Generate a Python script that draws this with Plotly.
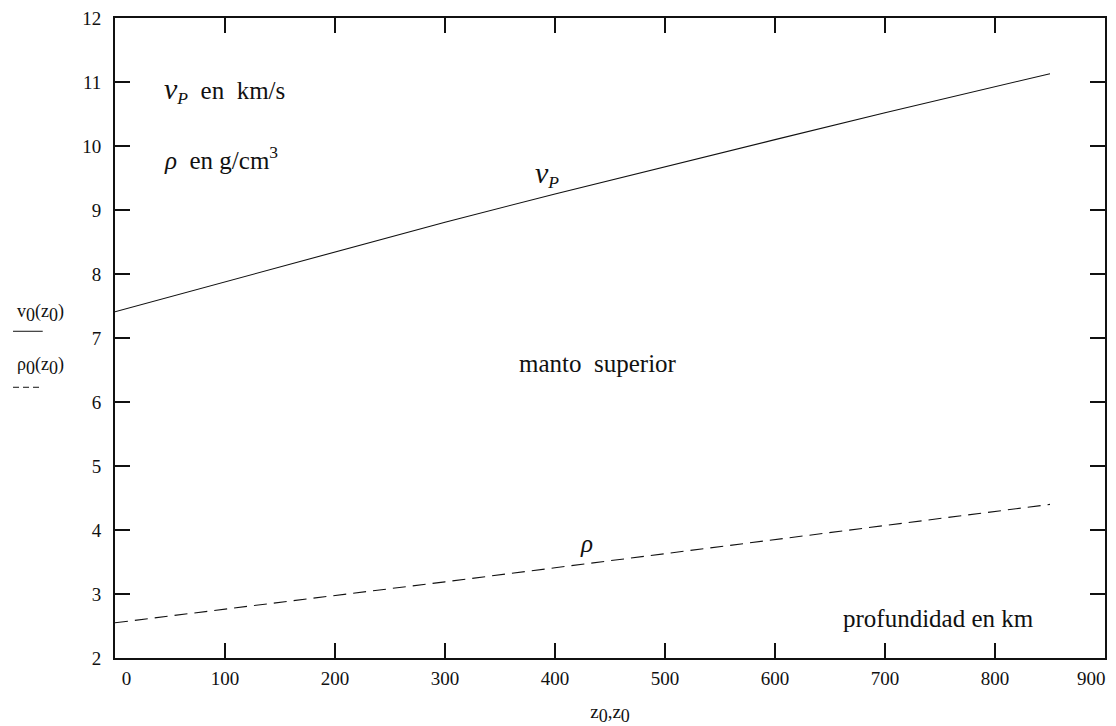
import plotly.graph_objects as go

# Depth in km
depth_km = [0, 100, 200, 300, 400, 500, 600, 700, 800, 850]
# P-wave velocity in km/s
vp_kms = [7.41, 7.88, 8.35, 8.81, 9.25, 9.68, 10.10, 10.52, 10.93, 11.13]
# Density in g/cm^3
rho_gcm3 = [2.55, 2.76, 2.97, 3.19, 3.41, 3.63, 3.85, 4.07, 4.29, 4.40]

x_tick_vals = [0, 100, 200, 300, 400, 500, 600, 700, 800, 900]
x_tick_text = ["\u2002\u2002\u20090", "100", "200", "300", "400", "500",
               "600", "700", "800", ""]
y_tick_vals = [2, 3, 4, 5, 6, 7, 8, 9, 10, 11, 12]

SERIF = "'Liberation Serif', 'Times New Roman', Times, serif"
INK = "#111111"

fig = go.Figure()
fig.add_trace(go.Scatter(x=depth_km, y=vp_kms, mode="lines",
                         line=dict(color=INK, width=1.1), showlegend=False))
fig.add_trace(go.Scatter(x=depth_km, y=rho_gcm3, mode="lines",
                         line=dict(color=INK, width=1.1, dash="13px,7px"),
                         showlegend=False))

axis_common = dict(
    showgrid=False, zeroline=False, automargin=False,
    showline=True, linecolor=INK, linewidth=2, mirror="ticks",
    ticks="inside", ticklen=15, tickwidth=2, tickcolor=INK,
    tickfont=dict(family=SERIF, size=19, color=INK),
)

fig.update_xaxes(range=[0, 900], tickmode="array", tickvals=x_tick_vals,
                 ticktext=x_tick_text, ticklabelstandoff=2,
                 title=dict(text="z<sub><span style='font-size:18px'>0</span></sub>,"
                                 "z<sub><span style='font-size:18px'>0</span></sub>",
                            font=dict(family=SERIF, size=19, color=INK),
                            standoff=22),
                 **axis_common)
fig.update_yaxes(range=[2, 12], tickmode="array", tickvals=y_tick_vals,
                 ticklabelstandoff=8, **axis_common)

ann_font = dict(family=SERIF, size=25, color=INK)
annotations = [
    dict(x=43, y=10.87, xanchor="left", yanchor="middle",
         text="<span style='font-size:30px'><i>v</i></span><sub><i>P</i></sub>"
              "\u00a0\u00a0en\u00a0\u00a0km/s"),
    dict(x=43, y=9.82, xanchor="left", yanchor="middle",
         text="<i>ρ</i>\u00a0\u00a0en g/cm<sup>3</sup>"),
    dict(x=380, y=9.57, xanchor="left", yanchor="middle",
         text="<span style='font-size:30px'><i>v</i></span><sub><i>P</i></sub>"),
    dict(x=429, y=3.79, xanchor="center", yanchor="middle",
         text="<i>ρ</i>"),
    dict(x=365, y=6.6, xanchor="left", yanchor="middle",
         text="manto\u00a0\u00a0superior"),
    dict(x=660, y=2.62, xanchor="left", yanchor="middle",
         text="profundidad en km"),
]
for a in annotations:
    a.update(xref="x", yref="y", showarrow=False, font=ann_font)

# Last x tick label, kept inside the frame's right edge
annotations.append(dict(xref="x", yref="paper", x=900, y=0, xanchor="right",
                        yanchor="top", xshift=3, yshift=-8, showarrow=False,
                        text="900", font=dict(family=SERIF, size=19, color=INK)))

# Axis-label stack with line-style keys
label_font = dict(family=SERIF, size=18, color=INK)
annotations += [
    dict(xref="paper", yref="paper", x=-0.101, y=0.5386, xanchor="left",
         yanchor="middle", showarrow=False, font=label_font,
         text="v<sub><span style='font-size:18px'>0</span></sub>"
              "(z<sub><span style='font-size:18px'>0</span></sub>)"),
    dict(xref="paper", yref="paper", x=-0.101, y=0.4558, xanchor="left",
         yanchor="middle", showarrow=False, font=label_font,
         text="ρ<sub><span style='font-size:18px'>0</span></sub>"
              "(z<sub><span style='font-size:18px'>0</span></sub>)"),
]

shapes = [
    dict(type="line", xref="paper", yref="paper", x0=-0.103, x1=-0.073,
         y0=0.5105, y1=0.5105, line=dict(color=INK, width=1)),
    dict(type="line", xref="paper", yref="paper", x0=-0.103, x1=-0.073,
         y0=0.423, y1=0.423, line=dict(color=INK, width=1, dash="6px,4px")),
]

fig.update_layout(
    width=1116, height=726,
    margin=dict(l=115, r=11, t=18, b=68),
    paper_bgcolor="white", plot_bgcolor="white",
    font=dict(family=SERIF, color=INK),
    annotations=annotations, shapes=shapes,
)

fig.write_html("out.html")
